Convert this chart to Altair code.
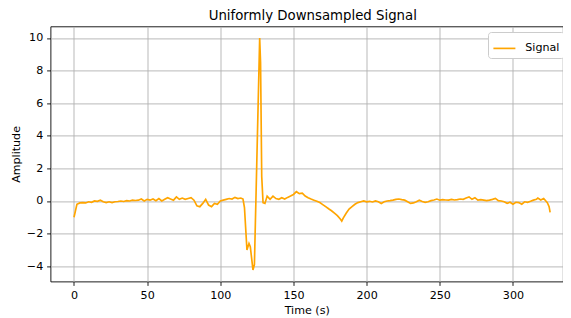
import altair as alt
import pandas as pd

# Time (s) of each sample
times = [
    0, 2, 4, 6, 8, 10, 12, 14, 16, 18, 20, 22, 24, 26, 28, 30, 32, 34, 36, 38,
    40, 42, 44, 46, 48, 50, 52, 54, 56, 58, 60, 62, 64, 66, 68, 70, 72, 74, 76, 78,
    80, 82, 84, 86, 88, 90, 92, 94, 96, 98, 100, 102, 104, 106, 108, 110, 112, 114, 115.5,
    116.5, 118.2, 119.6, 120.5, 122.3, 123.3, 126.9, 127.5, 128.3, 129.2, 130.5,
    132, 134, 136, 138, 140, 142, 144, 146, 148, 150, 152, 154, 156, 158, 160, 162, 164,
    166, 168, 170, 172, 174, 176, 178, 180, 182, 183, 184, 186, 188, 190, 192, 194, 196,
    198, 200, 202, 204, 206, 208, 210, 212, 214, 216, 218, 220, 222, 224, 226, 228, 230,
    232, 234, 236, 238, 240, 242, 244, 246, 248, 250, 252, 254, 256, 258, 260, 262, 264,
    266, 268, 270, 272, 274, 276, 278, 280, 282, 284, 286, 288, 290, 292, 294, 296, 298,
    300, 302, 304, 306, 308, 310, 312, 314, 316, 317, 319, 321, 323.5, 324.7, 325.4,
]

# Amplitude of each sample
amplitude = [
    -1.0, -0.2, -0.12, -0.1, -0.12, -0.05, -0.08, 0.0, -0.02, 0.05, -0.05, -0.1, -0.05, -0.1, -0.05, -0.03, 0.0, -0.03, 0.02, 0.0,
    0.05, 0.03, 0.05, 0.12, 0.0, 0.1, 0.05, 0.12, 0.02, 0.15, 0.0, 0.1, 0.2, 0.12, 0.05, 0.25, 0.1, 0.18, 0.1, 0.15,
    0.2, 0.05, -0.3, -0.35, -0.15, 0.1, -0.25, -0.35, -0.15, -0.2, 0.0, 0.05, 0.1, 0.15, 0.12, 0.22, 0.15, 0.18, 0.12,
    -0.4, -3.0, -2.6, -2.8, -4.23, -3.9, 10.0, 8.5, 1.5, -0.1, -0.15,
    0.3, 0.1, 0.3, 0.15, 0.1, 0.2, 0.12, 0.22, 0.3, 0.4, 0.57, 0.45, 0.48, 0.3, 0.2, 0.12, 0.05,
    -0.02, -0.1, -0.22, -0.35, -0.48, -0.6, -0.75, -0.9, -1.1, -1.23, -1.05, -0.75, -0.5, -0.35, -0.2, -0.1, -0.05,
    0.0, -0.05, -0.02, -0.06, 0.0, -0.05, -0.15, -0.05, 0.0, 0.02, 0.05, 0.1, 0.12, 0.08, 0.05, -0.05, -0.15,
    -0.12, -0.05, 0.05, -0.03, -0.08, -0.05, 0.02, 0.06, 0.12, 0.05, 0.08, 0.06, 0.05, 0.1, 0.06, 0.08, 0.12,
    0.1, 0.18, 0.25, 0.1, 0.2, 0.05, 0.08, 0.05, 0.02, 0.05, 0.1, 0.16, 0.02, 0.0, -0.05, -0.14, -0.08,
    -0.2, -0.08, -0.1, -0.2, -0.05, -0.08, -0.02, 0.05, 0.1, 0.18, 0.06, 0.15, -0.1, -0.35, -0.7,
]

x_ticks = [0, 50, 100, 150, 200, 250, 300]
y_ticks = [-4, -2, 0, 2, 4, 6, 8, 10]

df = pd.DataFrame({"t": times, "a": amplitude, "series": ["Signal"] * len(times)})

FONT = "DejaVu Sans"
FS = 11.1

chart = (
    alt.Chart(df)
    .mark_line(strokeWidth=1.67)
    .encode(
        x=alt.X(
            "t:Q",
            scale=alt.Scale(domain=[-16.06, 334.2], nice=False, zero=False),
            axis=alt.Axis(values=x_ticks, title="Time (s)", format="d",
                          labelPadding=3.9, titlePadding=4.4),
        ),
        y=alt.Y(
            "a:Q",
            scale=alt.Scale(domain=[-4.94, 10.71], nice=False, zero=False),
            axis=alt.Axis(values=y_ticks, title="Amplitude", format="d",
                          labelPadding=3.9, titlePadding=4.4),
        ),
        color=alt.Color(
            "series:N",
            scale=alt.Scale(domain=["Signal"], range=["#FFA500"]),
            legend=alt.Legend(
                title=None,
                orient="none",
                legendX=437.5,
                legendY=5.6,
                symbolType="stroke",
                symbolSize=484,
                symbolStrokeWidth=1.67,
                labelFontSize=FS,
                labelFont=FONT,
                labelColor="black",
                labelOffset=8.9,
                padding=4.4,
                fillColor="white",
                strokeColor="#cccccc",
                cornerRadius=3,
            ),
        ),
    )
    .properties(
        width=512.5,
        height=255.1,
        title=alt.TitleParams(
            "Uniformly Downsampled Signal",
            fontSize=13.3,
            font=FONT,
            fontWeight="normal",
            color="black",
            offset=4,
            dx=6,
            anchor="middle",
        ),
        autosize=alt.AutoSizeParams(type="none"),
        padding={"left": 42.5, "top": 18.4, "right": 0, "bottom": 36},
    )
    .configure_view(stroke="black", strokeWidth=0.89)
    .configure_axis(
        domain=False,
        grid=True,
        gridColor="#b0b0b0",
        gridWidth=0.89,
        ticks=True,
        tickColor="black",
        tickSize=3.9,
        tickWidth=0.89,
        labelFont=FONT,
        labelFontSize=FS,
        labelColor="black",
        titleFont=FONT,
        titleFontSize=FS,
        titleFontWeight="normal",
        titleColor="black",
    )
)

chart.save("out.html", embed_options={"renderer": "svg", "actions": False})
